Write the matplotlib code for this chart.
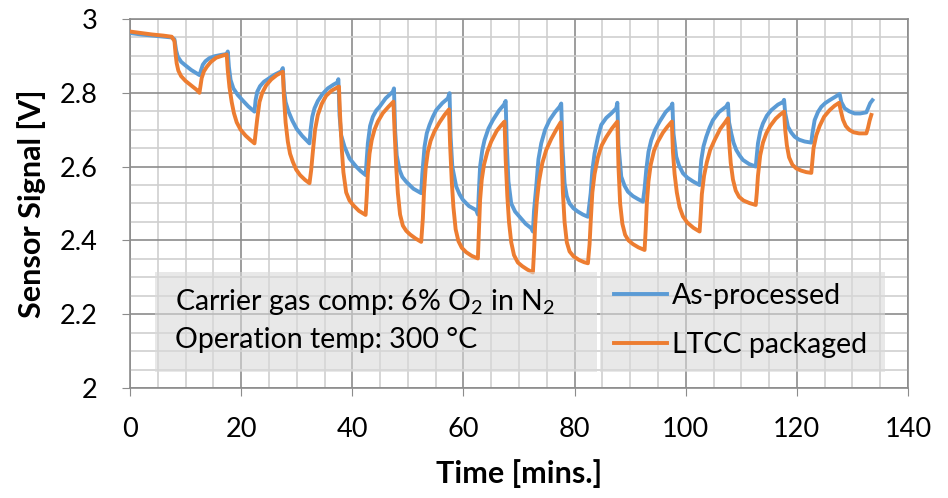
import matplotlib
matplotlib.use("Agg")
import matplotlib.pyplot as plt
from matplotlib.patches import Rectangle
from matplotlib.ticker import MultipleLocator

# As-processed sensor (blue)
t_asp = [0, 2, 4, 6, 7.5, 8.0,
         8.3, 8.6, 9.2, 10, 11, 12.5,
         12.8, 13.1, 13.6, 14.3, 15.2, 16.5, 17.4, 17.6,
         17.8, 18.1, 18.6, 19.4, 20.3, 21.3, 22.4,
         22.6, 22.9, 23.4, 24.1, 24.9, 26.0, 27.2, 27.5,
         27.7, 28.0, 28.5, 29.2, 30.0, 31.0, 32.3,
         32.5, 32.8, 33.2, 33.8, 34.6, 35.6, 36.6, 37.3, 37.5,
         37.7, 38.0, 38.6, 39.5, 40.7, 41.5, 42.4,
         42.6, 42.8, 43.2, 43.7, 44.3, 44.9, 46.0, 47.3, 47.5,
         47.7, 48.0, 48.5, 49.0, 49.7, 51.0, 52.4,
         52.6, 53.0, 53.4, 53.9, 54.5, 55.1, 56.2, 57.2, 57.5,
         57.7, 58.0, 58.7, 59.3, 59.9, 61.0, 62.3, 62.6,
         62.8, 63.0, 63.4, 63.8, 64.5, 65.3, 66.4, 67.3, 67.6,
         67.8, 68.1, 68.6, 69.3, 70.1, 71.2, 72.2, 72.5,
         72.7, 73.1, 73.5, 74.0, 74.7, 75.5, 76.5, 77.3, 77.6,
         77.8, 78.2, 78.6, 79.1, 79.8, 80.6, 81.5, 82.4,
         82.6, 82.9, 83.2, 83.6, 84.2, 84.8, 85.7, 86.6, 87.5, 87.7,
         87.9, 88.4, 89.0, 89.6, 90.5, 91.4, 92.3,
         92.6, 92.9, 93.3, 93.8, 94.5, 95.3, 96.4, 97.4, 97.6,
         97.8, 98.3, 98.8, 99.5, 100.3, 101.3, 102.5,
         102.6, 102.8, 103.2, 103.7, 104.3, 104.9, 106.0, 107.3, 107.6,
         107.8, 108.2, 108.6, 109.1, 109.7, 110.3, 111.4, 112.6,
         112.8, 113.0, 113.4, 113.9, 114.6, 115.4, 116.6, 117.5, 117.7,
         117.9, 118.4, 119.0, 119.6, 120.4, 121.4, 122.6,
         122.8, 123.2, 123.8, 124.4, 125.1, 125.9, 127.0, 127.7,
         128.0, 128.6, 129.4, 130.4, 131.4, 132.5, 132.8, 133.2, 133.6]
v_asp = [2.962, 2.958, 2.955, 2.952, 2.950, 2.945,
         2.915, 2.898, 2.884, 2.874, 2.862, 2.848,
         2.862, 2.876, 2.886, 2.894, 2.899, 2.903, 2.905, 2.912,
         2.870, 2.835, 2.812, 2.794, 2.779, 2.763, 2.749,
         2.780, 2.803, 2.818, 2.830, 2.838, 2.849, 2.858, 2.867,
         2.810, 2.775, 2.750, 2.725, 2.702, 2.683, 2.663,
         2.700, 2.735, 2.758, 2.778, 2.796, 2.812, 2.822, 2.828, 2.837,
         2.740, 2.685, 2.654, 2.622, 2.600, 2.588, 2.577,
         2.620, 2.663, 2.710, 2.735, 2.752, 2.762, 2.785, 2.803, 2.812,
         2.700, 2.630, 2.591, 2.572, 2.559, 2.540, 2.528,
         2.580, 2.654, 2.690, 2.713, 2.735, 2.753, 2.772, 2.785, 2.799,
         2.680, 2.600, 2.546, 2.525, 2.510, 2.493, 2.482, 2.470,
         2.540, 2.600, 2.645, 2.672, 2.703, 2.726, 2.752, 2.768, 2.778,
         2.660, 2.560, 2.500, 2.478, 2.464, 2.445, 2.433, 2.424,
         2.480, 2.546, 2.620, 2.663, 2.700, 2.726, 2.748, 2.762, 2.771,
         2.660, 2.555, 2.520, 2.500, 2.487, 2.478, 2.470, 2.464,
         2.490, 2.528, 2.590, 2.636, 2.680, 2.713, 2.732, 2.744, 2.758, 2.773,
         2.660, 2.573, 2.548, 2.532, 2.520, 2.512, 2.505,
         2.540, 2.591, 2.640, 2.672, 2.700, 2.722, 2.748, 2.763, 2.771,
         2.690, 2.627, 2.603, 2.582, 2.570, 2.560, 2.550,
         2.580, 2.618, 2.655, 2.681, 2.706, 2.726, 2.748, 2.763, 2.771,
         2.720, 2.690, 2.665, 2.645, 2.630, 2.618, 2.607, 2.600,
         2.630, 2.663, 2.695, 2.717, 2.738, 2.753, 2.768, 2.775, 2.781,
         2.745, 2.708, 2.692, 2.681, 2.673, 2.668, 2.665,
         2.690, 2.726, 2.748, 2.762, 2.772, 2.780, 2.790, 2.797,
         2.775, 2.758, 2.750, 2.744, 2.744, 2.747, 2.758, 2.772, 2.780]

# LTCC packaged sensor (orange)
t_ltcc = [0, 2, 4, 6, 7.5, 8.0,
          8.2, 8.4, 8.7, 9.2, 10.0, 11.0, 12.0, 12.5,
          12.7, 12.9, 13.3, 13.8, 14.5, 15.5, 16.5, 17.4,
          17.6, 17.9, 18.3, 18.7, 19.2, 19.9, 20.8, 21.6, 22.4,
          22.6, 22.9, 23.3, 23.8, 24.5, 25.4, 26.4, 27.5,
          27.7, 28.0, 28.4, 28.8, 29.3, 29.9, 30.6, 31.5, 32.3,
          32.6, 32.9, 33.3, 33.8, 34.5, 35.3, 36.3, 37.0, 37.6,
          37.8, 38.1, 38.4, 38.9, 39.5, 40.2, 41.2, 42.4,
          42.6, 42.8, 43.1, 43.5, 44.0, 44.6, 45.5, 46.5, 47.4,
          47.6, 47.9, 48.2, 48.6, 49.1, 49.7, 50.4, 51.4, 52.4,
          52.7, 52.9, 53.2, 53.6, 54.1, 54.8, 55.7, 56.6, 57.4,
          57.6, 57.9, 58.2, 58.6, 59.1, 59.7, 60.5, 61.5, 62.6,
          62.8, 63.0, 63.3, 63.7, 64.3, 65.0, 66.0, 66.8, 67.4,
          67.6, 67.9, 68.2, 68.6, 69.1, 69.8, 70.6, 71.5, 72.5,
          72.7, 72.9, 73.2, 73.6, 74.2, 74.9, 75.8, 76.7, 77.5,
          77.7, 77.9, 78.2, 78.6, 79.1, 79.8, 80.8, 81.7, 82.4,
          82.7, 82.9, 83.2, 83.6, 84.2, 84.9, 85.7, 86.7, 87.7,
          87.9, 88.2, 88.6, 89.1, 89.7, 90.5, 91.5, 92.6,
          92.8, 93.0, 93.3, 93.7, 94.3, 95.0, 95.9, 96.7, 97.5,
          97.7, 98.0, 98.4, 98.9, 99.5, 100.3, 101.4, 102.5,
          102.7, 102.9, 103.3, 103.8, 104.4, 105.2, 106.2, 107.0, 107.6,
          107.8, 108.1, 108.5, 109.0, 109.6, 110.4, 111.5, 112.6,
          112.8, 113.0, 113.4, 113.9, 114.5, 115.2, 116.2, 117.0, 117.7,
          117.9, 118.2, 118.6, 119.2, 119.9, 120.8, 121.7, 122.6,
          122.8, 123.0, 123.5, 124.1, 124.9, 125.9, 126.8, 127.6,
          127.9, 128.3, 128.8, 129.4, 130.2, 131.2, 132.5, 132.8, 133.1, 133.4]
v_ltcc = [2.966, 2.962, 2.958, 2.955, 2.952, 2.940,
          2.905, 2.880, 2.860, 2.845, 2.832, 2.820, 2.808, 2.800,
          2.820, 2.840, 2.858, 2.870, 2.883, 2.895, 2.900, 2.904,
          2.860, 2.815, 2.775, 2.745, 2.720, 2.700, 2.684, 2.673, 2.663,
          2.690, 2.730, 2.775, 2.800, 2.820, 2.836, 2.848, 2.857,
          2.790, 2.720, 2.668, 2.635, 2.613, 2.592, 2.577, 2.564, 2.555,
          2.590, 2.640, 2.700, 2.740, 2.770, 2.792, 2.806, 2.812, 2.817,
          2.740, 2.650, 2.585, 2.530, 2.508, 2.495, 2.480, 2.469,
          2.520, 2.582, 2.635, 2.672, 2.700, 2.722, 2.745, 2.762, 2.776,
          2.700, 2.600, 2.528, 2.470, 2.440, 2.426, 2.416, 2.405, 2.396,
          2.460, 2.530, 2.595, 2.640, 2.670, 2.696, 2.720, 2.740, 2.755,
          2.660, 2.560, 2.490, 2.430, 2.398, 2.380, 2.368, 2.358, 2.351,
          2.430, 2.510, 2.565, 2.605, 2.640, 2.668, 2.697, 2.712, 2.722,
          2.620, 2.520, 2.450, 2.395, 2.360, 2.340, 2.330, 2.321, 2.313,
          2.370, 2.440, 2.505, 2.560, 2.610, 2.645, 2.675, 2.700, 2.720,
          2.620, 2.530, 2.450, 2.395, 2.370, 2.357, 2.347, 2.341, 2.338,
          2.390, 2.450, 2.530, 2.580, 2.625, 2.658, 2.680, 2.703, 2.722,
          2.600, 2.500, 2.445, 2.415, 2.400, 2.390, 2.381, 2.374,
          2.430, 2.500, 2.560, 2.605, 2.643, 2.668, 2.692, 2.708, 2.722,
          2.640, 2.580, 2.530, 2.490, 2.465, 2.448, 2.434, 2.424,
          2.470, 2.525, 2.575, 2.612, 2.645, 2.672, 2.702, 2.718, 2.731,
          2.670, 2.610, 2.565, 2.535, 2.518, 2.508, 2.501, 2.496,
          2.530, 2.575, 2.630, 2.665, 2.690, 2.710, 2.730, 2.741, 2.749,
          2.700, 2.658, 2.625, 2.605, 2.595, 2.589, 2.585, 2.583,
          2.615, 2.650, 2.685, 2.710, 2.735, 2.753, 2.765, 2.773,
          2.752, 2.727, 2.710, 2.700, 2.693, 2.690, 2.690, 2.705, 2.725, 2.740]

labels = ["As-processed", "LTCC packaged"]
colors = ["#5B9BD5", "#ED7D31"]

plt.rcParams['font.family'] = ['Lato', 'DejaVu Sans']
plt.rcParams['mathtext.fontset'] = 'custom'
plt.rcParams['mathtext.rm'] = 'Lato'

W, H = 948, 498
fig = plt.figure(figsize=(W / 100, H / 100), dpi=100)
ax = fig.add_axes([130 / W, 1 - 388 / H, 778 / W, 369 / H])

ax.plot(t_asp, v_asp, color=colors[0], lw=2.8, label=labels[0], zorder=3,
        solid_joinstyle='round')
ax.plot(t_ltcc, v_ltcc, color=colors[1], lw=2.8, label=labels[1], zorder=3,
        solid_joinstyle='round')

ax.set_xlim(0, 140)
ax.set_ylim(2, 3)
ax.xaxis.set_major_locator(MultipleLocator(20))
ax.xaxis.set_minor_locator(MultipleLocator(5))
ax.yaxis.set_major_locator(MultipleLocator(0.2))
ax.yaxis.set_minor_locator(MultipleLocator(0.05))
ax.yaxis.set_major_formatter(lambda v, pos: f"{v:g}")
ax.grid(which='major', color='#8c8c8c', lw=1.2, zorder=0)
ax.grid(which='minor', color='#cfcfcf', lw=1.2, zorder=0)
ax.set_axisbelow(True)
for s in ax.spines.values():
    s.set_color('#8c8c8c')
    s.set_linewidth(1.2)
ax.tick_params(which='major', length=6, color='#8c8c8c', labelsize=19.5)
ax.tick_params(which='minor', length=0)
ax.tick_params(axis='x', pad=15)
ax.tick_params(axis='y', pad=17.5)

ax.set_xlabel("Time [mins.]", fontsize=22, fontweight='bold', labelpad=12)
ax.set_ylabel("Sensor Signal [V]", fontsize=22, fontweight='bold', labelpad=10)

# gray boxes behind the note and the legend
px2x = lambda px: (px - 130) / 778 * 140
py2y = lambda py: 3 - (py - 19) / 369
ax.add_patch(Rectangle((px2x(155), py2y(372)), px2x(597) - px2x(155), py2y(272) - py2y(372),
                       facecolor='#d9d9d9', alpha=0.6, edgecolor='none', zorder=4))
ax.add_patch(Rectangle((px2x(600), py2y(372)), px2x(885) - px2x(600), py2y(272) - py2y(372),
                       facecolor='#d9d9d9', alpha=0.6, edgecolor='none', zorder=4))

fig.text(175 / W, 1 - 302 / H, "Carrier gas comp: 6% O$_2$ in N$_2$", fontsize=20.5,
         va='center', ha='left', zorder=5)
fig.text(175 / W, 1 - 340 / H, "Operation temp: 300 °C", fontsize=20.5,
         va='center', ha='left', zorder=5)

leg = ax.legend(loc='upper left', bbox_to_anchor=(614 / W, 1 - 283 / H),
                bbox_transform=fig.transFigure, frameon=False, fontsize=20.5,
                handlelength=1.85, handletextpad=0.2, labelspacing=0.8,
                borderpad=0, borderaxespad=0)
leg.set_zorder(5)

fig.savefig("out.png", dpi=100)
